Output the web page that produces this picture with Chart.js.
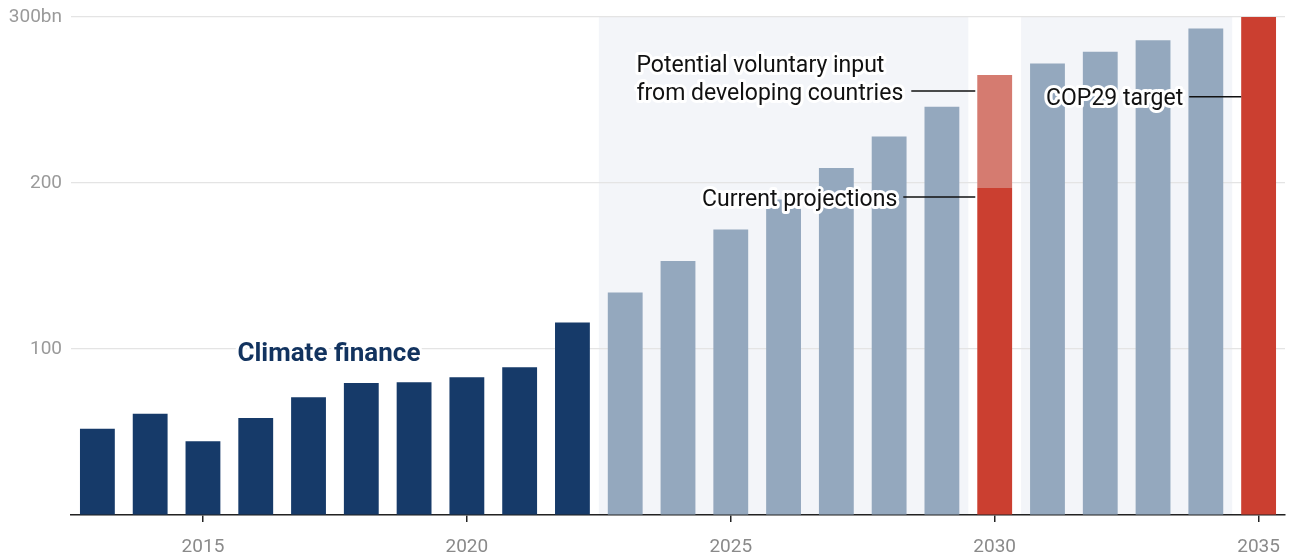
<!DOCTYPE html>
<html lang="en">
<head>
    <meta charset="UTF-8">
    <title>Climate finance</title>
    <script src="https://cdn.jsdelivr.net/npm/chart.js"></script>
    <style>
        html, body { margin: 0; padding: 0; background: #fff; }
        #wrap { width: 1291px; height: 556px; position: relative; }
    </style>
</head>
<body>
<div id="wrap"><canvas id="chartCanvas"></canvas></div>

<script>
    // years on the x axis
    const years = ['2013', '2014', '2015', '2016', '2017', '2018', '2019', '2020', '2021', '2022',
        '2023', '2024', '2025', '2026', '2027', '2028', '2029', '2030',
        '2031', '2032', '2033', '2034', '2035'];

    // reported climate finance, bn
    const climateFinance = [52, 61, 44.5, 58.5, 71, 79.5, 80, 83, 89, 116,
        null, null, null, null, null, null, null, null, null, null, null, null, null];

    // projected path towards the target
    const projected = [null, null, null, null, null, null, null, null, null, null,
        134, 153, 172, 190, 209, 228, 246, null, 272, 279, 286, 293, null];

    // current projections (2030) and COP29 target (2035)
    const milestones = [null, null, null, null, null, null, null, null, null, null,
        null, null, null, null, null, null, null, 197, null, null, null, null, 300];

    // potential voluntary input from developing countries, on top of 2030 projections
    const voluntaryInput = [null, null, null, null, null, null, null, null, null, null,
        null, null, null, null, null, null, null, [197, 265], null, null, null, null, null];

    const yTicks = [0, 100, 200, 300];
    const shadedYears = [['2023', '2029'], ['2031', '2034']];

    const FONT = 'Roboto, "Noto Sans", sans-serif';

    // light background bands behind the projection years
    const bandsPlugin = {
        id: 'bands',
        beforeDraw(chart) {
            const { ctx, chartArea, scales: { x } } = chart;
            const half = (x.getPixelForValue(1) - x.getPixelForValue(0)) / 2;
            ctx.save();
            ctx.fillStyle = '#f3f5f9';
            shadedYears.forEach(([from, to]) => {
                const x0 = x.getPixelForValue(years.indexOf(from)) - half;
                const x1 = x.getPixelForValue(years.indexOf(to)) + half;
                ctx.fillRect(x0, chartArea.top, x1 - x0, chartArea.bottom - chartArea.top);
            });
            ctx.restore();
        }
    };

    function haloText(ctx, text, x, y, color) {
        ctx.lineJoin = 'round';
        ctx.lineWidth = 6;
        ctx.strokeStyle = '#fff';
        ctx.strokeText(text, x, y);
        ctx.fillStyle = color;
        ctx.fillText(text, x, y);
    }

    function leader(ctx, x0, x1, y) {
        ctx.beginPath();
        ctx.moveTo(x0, y);
        ctx.lineTo(x1, y);
        ctx.lineWidth = 1.5;
        ctx.strokeStyle = '#111';
        ctx.stroke();
    }

    // text labels with leader lines
    const labelsPlugin = {
        id: 'labels',
        afterDatasetsDraw(chart) {
            const { ctx, scales: { x, y } } = chart;
            const barHalf = (x.getPixelForValue(1) - x.getPixelForValue(0)) * 0.33;
            ctx.save();
            ctx.textBaseline = 'middle';

            // Climate finance
            ctx.font = 'bold 26px ' + FONT;
            ctx.textAlign = 'center';
            const cfX = (x.getPixelForValue(4) + x.getPixelForValue(5)) / 2 - 6;
            haloText(ctx, 'Climate finance', cfX, y.getPixelForValue(98) + 2, '#12335f');

            ctx.font = '23px ' + FONT;

            // 2030: voluntary input
            const i30 = years.indexOf('2030');
            const bar30 = x.getPixelForValue(i30) - barHalf;
            const volY = y.getPixelForValue(voluntaryInput[i30][1]) + 16;
            leader(ctx, bar30 - 66, bar30 - 2, volY);
            ctx.textAlign = 'left';
            const line2 = 'from developing countries';
            const tx = bar30 - 74 - ctx.measureText(line2).width;
            haloText(ctx, 'Potential voluntary input', tx, volY - 25, '#111');
            haloText(ctx, line2, tx, volY + 3, '#111');

            // 2030: current projections
            const curY = y.getPixelForValue(milestones[i30]) + 9;
            leader(ctx, bar30 - 74, bar30 - 2, curY);
            ctx.textAlign = 'right';
            haloText(ctx, 'Current projections', bar30 - 80, curY + 3, '#111');

            // 2035: target
            const i35 = years.indexOf('2035');
            const bar35 = x.getPixelForValue(i35) - barHalf;
            const tgY = y.getPixelForValue(252);
            leader(ctx, bar35 - 52, bar35, tgY);
            haloText(ctx, 'COP29 target', bar35 - 58, tgY + 3, '#111');

            ctx.restore();
        }
    };

    const ctx = document.getElementById('chartCanvas').getContext('2d');

    new Chart(ctx, {
        type: 'bar',
        data: {
            labels: years,
            datasets: [
                { label: 'Climate finance', data: climateFinance, backgroundColor: '#163a69' },
                { label: 'Projected', data: projected, backgroundColor: '#94a8be' },
                { label: 'Milestones', data: milestones, backgroundColor: '#cb3f30' },
                { label: 'Voluntary input', data: voluntaryInput, backgroundColor: '#d57b70' }
            ]
        },
        options: {
            responsive: true,
            maintainAspectRatio: false,
            animation: false,
            layout: { padding: { top: 17, right: 6, left: 0, bottom: 0 } },
            datasets: {
                bar: { barPercentage: 0.66, categoryPercentage: 1, borderWidth: 0 }
            },
            plugins: {
                legend: { display: false },
                tooltip: { enabled: false }
            },
            scales: {
                x: {
                    stacked: true,
                    grid: {
                        offset: false,
                        drawOnChartArea: false,
                        drawTicks: true,
                        tickLength: 7,
                        lineWidth: 1.5,
                        color: c => (Number(years[c.index]) % 5 === 0 ? '#222' : 'rgba(0,0,0,0)')
                    },
                    border: { display: true, color: '#222', width: 1.5 },
                    ticks: {
                        autoSkip: false,
                        maxRotation: 0,
                        padding: 14,
                        color: '#8a8a8a',
                        font: { family: FONT, size: 19 },
                        callback: (v, i) => (Number(years[i]) % 5 === 0 ? years[i] : '')
                    },
                    afterFit: s => {
                        s.height = 41;
                        s.paddingLeft = 0;
                        s.paddingRight = 0;
                    }
                },
                y: {
                    min: 0,
                    max: 300,
                    afterBuildTicks: s => { s.ticks = yTicks.map(v => ({ value: v })); },
                    grid: { color: '#e4e4e4', lineWidth: 1.2, drawTicks: false },
                    border: { display: false },
                    ticks: {
                        padding: 9,
                        color: '#9a9a9a',
                        font: { family: FONT, size: 19 },
                        callback: v => (v === 0 ? '' : v === 300 ? '300bn' : String(v))
                    },
                    afterFit: s => {
                        s.width = 71;
                        s.paddingTop = 0;
                        s.paddingBottom = 0;
                    }
                }
            }
        },
        plugins: [bandsPlugin, labelsPlugin]
    });
</script>
</body>
</html>
